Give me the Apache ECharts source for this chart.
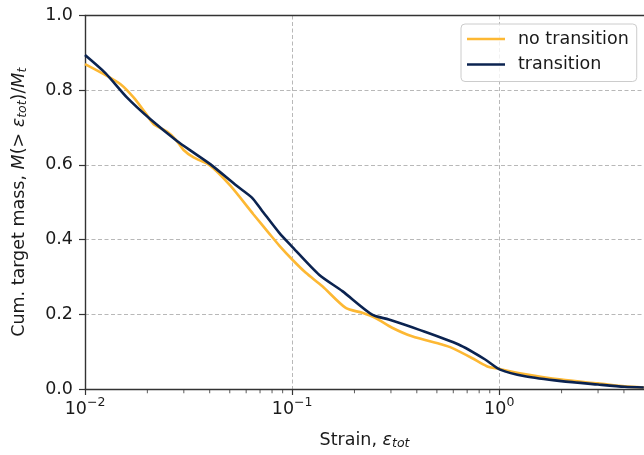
<!DOCTYPE html>
<html>
<head>
<meta charset="utf-8">
<script src="https://cdn.jsdelivr.net/npm/echarts@6/dist/echarts.min.js"></script>
<style>
html,body{margin:0;padding:0;background:#fff;}
#c{width:644px;height:455px;}
</style>
</head>
<body>
<div id="c"></div>
<script>
// strain values (x) and cumulative target mass fraction (y)
const noTransitionX = [0.01, 0.01234, 0.01485, 0.0172, 0.01959, 0.02147, 0.02488, 0.0274, 0.02993, 0.03344, 0.04023, 0.05021, 0.06498, 0.07758, 0.0867, 0.1004, 0.1165, 0.14, 0.1815, 0.2181, 0.2529, 0.304, 0.3794, 0.529, 0.5907, 0.7376, 0.8708, 0.9913, 1.237, 1.999, 3.0, 4.034, 4.99];
const noTransitionY = [0.870, 0.843, 0.816, 0.780, 0.739, 0.709, 0.689, 0.668, 0.640, 0.620, 0.598, 0.545, 0.468, 0.416, 0.384, 0.346, 0.311, 0.275, 0.217, 0.204, 0.190, 0.164, 0.141, 0.119, 0.110, 0.083, 0.061, 0.054, 0.043, 0.025, 0.015, 0.007, 0.004];
const transitionX = [0.01, 0.01258, 0.01597, 0.0207, 0.0278, 0.03344, 0.04023, 0.05401, 0.06376, 0.071, 0.0867, 0.1004, 0.135, 0.1748, 0.2435, 0.2931, 0.4087, 0.6364, 0.8554, 1.01, 1.332, 1.992, 3.0, 4.034, 4.99];
const transitionY = [0.894, 0.845, 0.780, 0.722, 0.664, 0.633, 0.602, 0.544, 0.513, 0.480, 0.418, 0.380, 0.306, 0.262, 0.199, 0.186, 0.159, 0.119, 0.079, 0.052, 0.034, 0.021, 0.012, 0.006, 0.004];
const seriesNames = ['no transition', 'transition'];
const xMin = 0.01, xMax = 5;
const xMajorTicks = [0.01, 0.1, 1];
const xMinorTicks = [0.02,0.03,0.04,0.05,0.06,0.07,0.08,0.09,0.2,0.3,0.4,0.5,0.6,0.7,0.8,0.9,2,3,4];

const FONT = 'DejaVu Sans';
const FS = 17.5;
const TXT = '#1a1a1a';
const AXIS = '#333333';
const zip = (xs, ys) => xs.map((x, i) => [x, ys[i]]);

function logLabel(v) {
  if (!xMajorTicks.some(t => Math.abs(Math.log10(t) - Math.log10(v)) < 1e-6)) return '';
  const e = Math.round(Math.log10(v));
  const s = e < 0 ? '\u2212' + (-e) : String(e);
  return '{b|10}{sup|' + s + '}';
}

const MINOR_LEN = 3.5;

const chart = echarts.init(document.getElementById('c'), null, {renderer: 'canvas'});
chart.setOption({
  animation: false,
  backgroundColor: '#ffffff',
  textStyle: {fontFamily: FONT},
  grid: {left: 85, top: 15.5, right: -2, bottom: 65.5, containLabel: false, show: false},
  legend: {
    left: 461, top: 24, orient: 'vertical', padding: [5, 8, 7, 6], itemGap: 5.5,
    itemWidth: 38, itemHeight: 2.6, icon: 'rect',
    backgroundColor: 'rgba(255,255,255,0.8)', borderColor: '#cccccc', borderWidth: 1, borderRadius: 4,
    textStyle: {fontFamily: FONT, fontSize: FS, color: TXT, lineHeight: 20, padding: [0, 0, 0, 8]},
    data: seriesNames
  },
  xAxis: [
    {
      type: 'log', logBase: 10, min: xMin, max: xMax, interval: 1, position: 'bottom',
      name: '{n|Strain, }{i|\u03b5}{s|tot}', nameLocation: 'middle', nameGap: 41,
      nameTextStyle: {fontFamily: FONT, fontSize: FS, color: TXT,
        rich: {n: {fontFamily: FONT, fontSize: FS, color: TXT},
               i: {fontFamily: FONT, fontSize: FS, color: TXT, fontStyle: 'italic'},
               s: {fontFamily: FONT, fontSize: 12.5, color: TXT, fontStyle: 'italic', padding: [7, 0, 0, 0]}}},
      axisLine: {show: true, onZero: false, lineStyle: {color: AXIS, width: 1.4}},
      axisTick: {show: true, inside: false, length: 6, lineStyle: {color: AXIS, width: 1.2}},
      axisLabel: {show: true, margin: 5, formatter: logLabel, showMinLabel: true, showMaxLabel: false,
        rich: {b: {fontFamily: FONT, fontSize: FS, color: TXT, padding: [6, 0, 0, 0]},
               sup: {fontFamily: FONT, fontSize: 12.5, color: TXT, padding: [0, 0, 6, 0]}}},
      splitLine: {show: true, lineStyle: {color: '#b8b8b8', width: 1, type: [4, 2.5]}}
    },
    {
      type: 'log', logBase: 10, min: xMin, max: xMax, interval: 1, position: 'top', z: 5,
      axisLine: {show: true, onZero: false, lineStyle: {color: AXIS, width: 1.4}},
      axisTick: {show: false}, axisLabel: {show: false}, splitLine: {show: false}
    }
  ],
  yAxis: {
    type: 'value', min: 0, max: 1, interval: 0.2,
    name: '{n|Cum. target mass, }{i|M}{n|(> }{i|\u03b5}{s|tot}{n|)/}{i|M}{s|t}',
    nameLocation: 'middle', nameGap: 56, nameRotate: 90,
    nameTextStyle: {fontFamily: FONT, fontSize: FS, color: TXT,
      rich: {n: {fontFamily: FONT, fontSize: FS, color: TXT},
             i: {fontFamily: FONT, fontSize: FS, color: TXT, fontStyle: 'italic'},
             s: {fontFamily: FONT, fontSize: 12.5, color: TXT, fontStyle: 'italic', padding: [7, 0, 0, 0]}}},
    axisLine: {show: true, onZero: false, lineStyle: {color: AXIS, width: 1.4}},
    axisTick: {show: true, length: 6, lineStyle: {color: AXIS, width: 1.2}},
    axisLabel: {fontFamily: FONT, fontSize: FS, color: TXT, margin: 12, formatter: v => v.toFixed(1)},
    splitLine: {show: true, lineStyle: {color: '#b8b8b8', width: 1, type: [4, 2.5]}}
  },
  series: [
    {name: seriesNames[0], type: 'line', xAxisIndex: 0, data: zip(noTransitionX, noTransitionY),
     showSymbol: false, symbol: 'none', smooth: 0.25, color: '#FDB833',
     lineStyle: {color: '#FDB833', width: 2.6}, z: 3},
    {name: seriesNames[1], type: 'line', xAxisIndex: 0, data: zip(transitionX, transitionY),
     showSymbol: false, symbol: 'none', smooth: 0.25, color: '#0B2350',
     lineStyle: {color: '#0B2350', width: 2.6}, z: 4},
    {
      // minor ticks of the log axis, placed through the axis scale
      name: 'minor ticks', type: 'scatter', xAxisIndex: 0,
      data: xMinorTicks.map(v => [v, 0]),
      symbol: 'rect', symbolSize: [1, MINOR_LEN], symbolOffset: [0, MINOR_LEN / 2 + 0.7],
      itemStyle: {color: AXIS}, clip: false, silent: true, z: 5,
      emphasis: {disabled: true}
    }
  ]
});
</script>
</body>
</html>
